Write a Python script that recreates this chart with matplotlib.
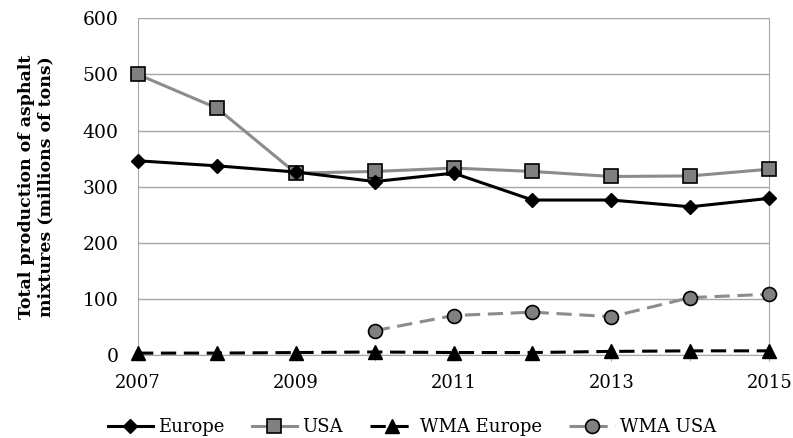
import matplotlib.pyplot as plt
import numpy as np

plt.rcParams['font.family'] = ['DejaVu Serif']

# Data
years = [2007, 2008, 2009, 2010, 2011, 2012, 2013, 2014, 2015]
europe = [346, 337, 326, 309, 324, 276, 276, 264, 279]
usa = [500, 440, 324, 327, 333, 327, 318, 319, 331]
wma_europe = [3, 3, 4, 5, 4, 4, 6, 7, 7]
wma_years = [2010, 2011, 2012, 2013, 2014, 2015]
wma_usa = [43, 70, 76, 68, 102, 108]

fig = plt.figure(figsize=(7.93, 4.38), dpi=100)
ax = fig.add_axes([0.174, 0.19, 0.796, 0.768])

ax.plot(years, europe, color='black', lw=2.2, marker='D', ms=7,
        mfc='black', mec='black', label='Europe', zorder=4, clip_on=False)
ax.plot(years, usa, color='#8c8c8c', lw=2.2, marker='s', ms=10,
        mfc='#808080', mec='black', mew=1.2, label='USA', zorder=3, clip_on=False)
ax.plot(years, wma_europe, color='black', lw=2.2, ls=(0, (5, 2.5)), marker='^', ms=10,
        mfc='black', mec='black', label='WMA Europe', zorder=5, clip_on=False)
ax.plot(wma_years, wma_usa, color='#8c8c8c', lw=2.2, ls=(0, (5, 2.5)), marker='o', ms=10,
        mfc='#808080', mec='black', mew=1.2, label='WMA USA', zorder=3, clip_on=False)

ax.set_xlim(2007, 2015)
ax.set_ylim(0, 600)
ax.set_xticks([2007, 2009, 2011, 2013, 2015])
ax.set_xticks(years, minor=True)
ax.set_yticks(np.arange(0, 601, 100))
ax.yaxis.grid(True, color='#a6a6a6', lw=1)
ax.set_axisbelow(True)
ax.spines['top'].set_visible(False)
for s in ['left', 'bottom', 'right']:
    ax.spines[s].set_color('#a6a6a6')
ax.tick_params(axis='y', length=0, labelsize=13.5, pad=14)
ax.tick_params(axis='x', which='both', length=4, color='#a6a6a6', labelsize=13, pad=10)

ax.set_ylabel('Total production of asphalt\nmixtures (millions of tons)',
              fontsize=12.5, fontweight='bold', labelpad=20)

ax.legend(loc='upper center', bbox_to_anchor=(0.434, -0.14), ncol=4, frameon=False,
          fontsize=13, handlelength=2.5, columnspacing=1.5, handletextpad=0.3)

fig.savefig('out.png', dpi=100)
